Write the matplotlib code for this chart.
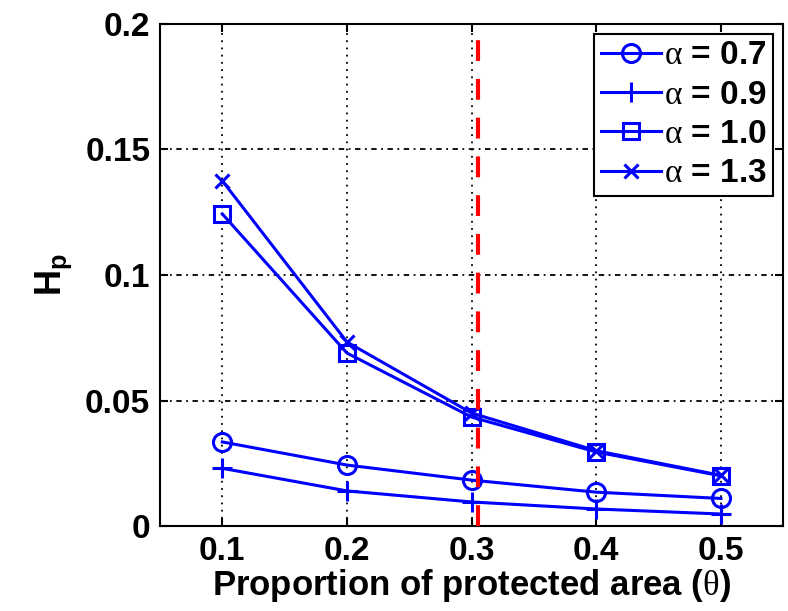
import matplotlib
matplotlib.use("Agg")
import matplotlib.pyplot as plt

# data
theta = [0.1, 0.2, 0.3, 0.4, 0.5]
hp_07 = [0.0335, 0.0243, 0.0183, 0.0135, 0.0110]
hp_09 = [0.0230, 0.0140, 0.0096, 0.0068, 0.0048]
hp_10 = [0.1243, 0.0689, 0.0434, 0.0295, 0.0200]
hp_13 = [0.1375, 0.0733, 0.0450, 0.0300, 0.0202]
labels = ["0.7", "0.9", "1.0", "1.3"]
theta_mark = 0.305

plt.rcParams['font.family'] = ['Liberation Sans', 'DejaVu Sans']
plt.rcParams['font.weight'] = 'bold'
plt.rcParams['mathtext.fontset'] = 'custom'
plt.rcParams['mathtext.rm'] = 'Liberation Serif:weight=normal'
plt.rcParams['mathtext.bf'] = 'Liberation Sans:bold'

fig = plt.figure(figsize=(7.88, 6.11), dpi=100)
ax = fig.add_axes([0.203, 0.139, 0.791, 0.822])

blue = '#0000ff'
series = [hp_07, hp_09, hp_10, hp_13]
markers = ['o', '+', 's', 'x']
msizes = [13, 15, 12, 10]
for ys, m, ms, lab in zip(series, markers, msizes, labels):
    ax.plot(theta, ys, color=blue, lw=2.2, marker=m, markersize=ms,
            markerfacecolor='none', markeredgewidth=2.2,
            label=r'$\mathrm{\alpha}$ = ' + lab)

ax.axvline(theta_mark, color='#ff0000', lw=3, linestyle=(0, (5, 4.3)), zorder=3)

ax.set_xlim(0.05, 0.55)
ax.set_ylim(0, 0.2)
ax.set_xticks(theta)
ax.set_xticklabels(['0.1', '0.2', '0.3', '0.4', '0.5'])
ax.set_yticks([0, 0.05, 0.1, 0.15, 0.2])
ax.set_yticklabels(['0', '0.05', '0.1', '0.15', '0.2'])
ax.tick_params(direction='in', length=6, width=1.5, top=True, right=True,
               labelsize=24, pad=7)
for s in ax.spines.values():
    s.set_linewidth(1.5)

ax.xaxis.grid(True, color='black', linestyle=(0, (1, 3)), lw=1.3)
ax.yaxis.grid(True, color='black', linestyle=(0, (3, 2.5, 1, 2.5)), lw=1.3)
ax.set_axisbelow(True)

ax.set_xlabel(r'Proportion of protected area ($\mathrm{\theta}$)', fontsize=25,
              fontweight='bold', labelpad=0)
ax.set_ylabel(r'$\mathbf{H_p}$', fontsize=26, labelpad=8)

leg = ax.legend(loc='upper right', fontsize=24, handlelength=1.8,
                handletextpad=0.1, labelspacing=0.25, borderpad=0.2,
                borderaxespad=0.3, fancybox=False, framealpha=1)
leg.get_frame().set_edgecolor('black')
leg.get_frame().set_linewidth(1.5)

fig.savefig('out.png', dpi=100)
